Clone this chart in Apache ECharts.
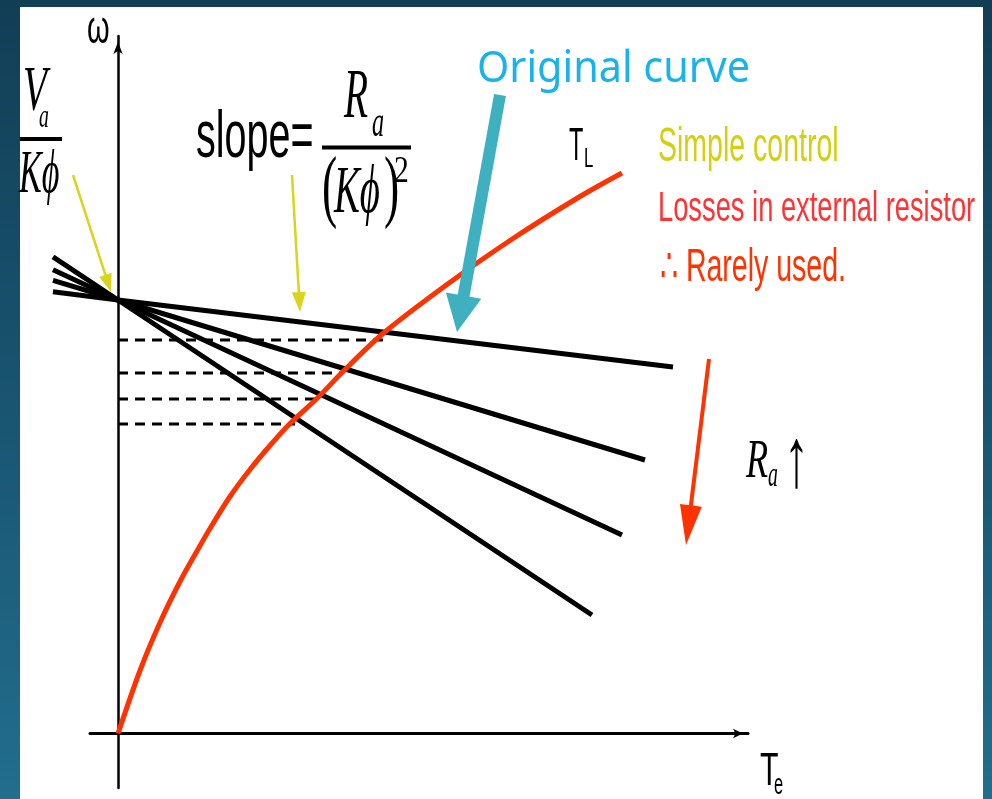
<!DOCTYPE html>
<html>
<head>
<meta charset="utf-8">
<script src="https://cdn.jsdelivr.net/npm/echarts@6/dist/echarts.min.js"></script>
<style>
  html, body { margin: 0; padding: 0; width: 992px; height: 799px; overflow: hidden;
    background: linear-gradient(180deg, #123e55 0%, #195470 50%, #226e8d 100%); }
  #panel { position: absolute; left: 20px; top: 7px; width: 963px; height: 792px; background: #ffffff; }
  #chart { position: absolute; left: 0; top: 0; width: 992px; height: 799px; }
</style>
</head>
<body>
<div id="panel"></div>
<div id="chart"></div>
<script>
// DC motor speed control by armature resistance: ω–T characteristics.
// Units: torque T along x, speed ω along y (arbitrary units).

// Speed lines for increasing armature resistance, [T, ω]: left end, no-load point, right end
const lineR1 = [[-6.5, 44.17], [0, 43.35], [55.5, 36.65]];
const lineR2 = [[-6.5, 45.32], [0, 43.35], [52.7, 27.35]];
const lineR3 = [[-6.5, 46.38], [0, 43.35], [50.4, 19.85]];
const lineR4 = [[-6.5, 47.67], [0, 43.35], [47.4, 11.85]];

// Load torque curve T_L, [T, ω]
const loadCurve = [
  [0, 0], [2.2, 6.3], [4.2, 11.1], [6.2, 15.2], [7.9, 18.25], [9.2, 20.5],
  [11.2, 23.7], [13.2, 26.4], [15.2, 28.8], [17.2, 31.0], [20.0, 33.6],
  [22.5, 36.2], [26.5, 40.0], [32.9, 44.9], [39.5, 49.5], [46.2, 53.7], [50.4, 56.05]
];

// Operating points projected onto the ω axis (dashed)
const opSpeeds = [39.35, 36.05, 33.45, 30.95];
const opTorques = [26.9, 22.5, 20.0, 17.7];

// Annotation arrows, [T tail, ω tail, T tip, ω tip]
const arrowOriginal = [38.2, 63.85, 33.9, 40.15];
const arrowNoLoad   = [-4.5, 55.85, -0.7, 44.15];
const arrowSlope    = [17.4, 55.85, 18.2, 42.15];
const arrowRa       = [59.1, 37.45, 56.8, 18.85];

const arrowStyles = [
  { color: '#3fb0bf', width: 12, headLen: 37, headW: 36 },
  { color: '#d9d41c', width: 2.5, headLen: 18, headW: 13 },
  { color: '#d9d41c', width: 2.5, headLen: 20, headW: 14 },
  { color: '#ff3300', width: 4, headLen: 40, headW: 22 }
];

const chart = echarts.init(document.getElementById('chart'), null, { renderer: 'canvas' });

const SANS = '"Liberation Sans", Arial, sans-serif';
const SERIF = '"Liberation Serif", "Times New Roman", serif';

function label(text, x, y, size, family, color, sx, extra) {
  const font = (extra || '') + ' ' + size + 'px ' + family;
  return {
    type: 'text', x: x, y: y, scaleX: sx, silent: true,
    style: {
      text: text, x: 0, y: 0, font: font, fill: color,
      align: 'left', verticalAlign: 'middle', textAlign: 'left', textVerticalAlign: 'middle'
    }
  };
}
function bar(x1, x2, y) {
  return { type: 'line', silent: true, shape: { x1: x1, y1: y, x2: x2, y2: y },
    style: { stroke: '#000', lineWidth: 4 } };
}

function arrowItem(params, api) {
  const p1 = api.coord([api.value(0), api.value(1)]);
  const p2 = api.coord([api.value(2), api.value(3)]);
  const st = arrowStyles[params.dataIndex];
  const dx = p2[0] - p1[0], dy = p2[1] - p1[1];
  const len = Math.sqrt(dx * dx + dy * dy);
  const ux = dx / len, uy = dy / len, nx = -uy, ny = ux;
  const bx = p2[0] - ux * st.headLen, by = p2[1] - uy * st.headLen;
  return {
    type: 'group',
    children: [
      { type: 'line', shape: { x1: p1[0], y1: p1[1], x2: bx + ux * 2, y2: by + uy * 2 },
        style: { stroke: st.color, lineWidth: st.width } },
      { type: 'polygon',
        shape: { points: [[p2[0], p2[1]],
          [bx + nx * st.headW / 2, by + ny * st.headW / 2],
          [bx - nx * st.headW / 2, by - ny * st.headW / 2]] },
        style: { fill: st.color } }
    ]
  };
}

function speedLine(data) {
  return { type: 'line', xAxisIndex: 0, yAxisIndex: 0, data: data, symbol: 'none',
    silent: true, z: 3, lineStyle: { color: '#000', width: 5 } };
}

const dashedSeries = opSpeeds.map(function (w, i) {
  return { type: 'line', xAxisIndex: 0, yAxisIndex: 0, symbol: 'none', silent: true, z: 2,
    data: [[0, w], [opTorques[i], w]],
    lineStyle: { color: '#000', width: 3, type: [10, 7] } };
});

const option = {
  animation: false,
  backgroundColor: 'transparent',
  grid: [
    { left: 48, right: 244, top: 36, bottom: 11, outerBoundsMode: 'none' },
    { left: 90, right: 244, top: 36, bottom: 11, outerBoundsMode: 'none' }
  ],
  xAxis: [
    { type: 'value', gridIndex: 0, min: -7, max: 63, show: false },
    { type: 'value', gridIndex: 1, min: -2.8, max: 63,
      axisLine: { show: true, onZero: true, symbol: ['none', 'arrow'], symbolSize: [7, 10],
        symbolOffset: [0, -5], lineStyle: { color: '#000', width: 3 } },
      axisTick: { show: false }, axisLabel: { show: false }, splitLine: { show: false } }
  ],
  yAxis: [
    { type: 'value', gridIndex: 0, min: -5.45, max: 69.75, show: false },
    { type: 'value', gridIndex: 1, min: -5.45, max: 69.75,
      axisLine: { show: true, onZero: true, symbol: ['none', 'arrow'], symbolSize: [7, 12],
        symbolOffset: [0, -6], lineStyle: { color: '#000', width: 2.5 } },
      axisTick: { show: false }, axisLabel: { show: false }, splitLine: { show: false } }
  ],
  series: [
    speedLine(lineR1), speedLine(lineR2), speedLine(lineR3), speedLine(lineR4)
  ].concat(dashedSeries).concat([
    { type: 'line', name: 'T_L', xAxisIndex: 0, yAxisIndex: 0, data: loadCurve,
      smooth: 0.3,
      symbol: 'none', silent: true, z: 4, lineStyle: { color: '#ff3300', width: 5 } },
    { type: 'custom', xAxisIndex: 0, yAxisIndex: 0, silent: true, z: 5,
      renderItem: arrowItem,
      encode: { x: [0, 2], y: [1, 3] },
      data: [arrowOriginal, arrowNoLoad, arrowSlope, arrowRa] }
  ]),
  graphic: [
    // axis titles
    label('ω', 87, 30, 46, SANS, '#000', 0.63),
    label('T', 760, 772, 46, SANS, '#000', 0.66),
    label('e', 774, 786, 30, SANS, '#000', 0.55),
    // V_a / Kφ
    label('V', 23, 93, 63, SERIF, '#000', 0.62, 'italic'),
    label('a', 39, 118, 33, SERIF, '#000', 0.6, 'italic'),
    bar(20, 62, 139),
    label('Kϕ', 19, 176, 62, SERIF, '#000', 0.55, 'italic'),
    // slope = R_a / (Kφ)^2
    label('slope=', 196, 139, 67, SANS, '#000', 0.59),
    label('R', 344, 99, 69, SERIF, '#000', 0.57, 'italic'),
    label('a', 372, 124, 44, SERIF, '#000', 0.55, 'italic'),
    bar(322, 411, 147.5),
    label('(', 322, 191, 80, SERIF, '#000', 0.57),
    label('Kϕ', 334, 194, 68, SERIF, '#000', 0.57, 'italic'),
    label(')', 384, 191, 80, SERIF, '#000', 0.57),
    label('2', 394, 172, 37, SERIF, '#000', 0.8),
    // curve labels
    label('Original curve', 477, 69.5, 44, '"Noto Sans", sans-serif', '#19b3ec', 0.94),
    label('T', 569, 147.5, 47, SANS, '#000', 0.5),
    label('L', 584, 159, 28, SANS, '#000', 0.6),
    // remarks
    label('Simple control', 658, 147.5, 47.5, SANS, '#d4cf10', 0.6),
    label('Losses in external resistor', 658, 209.5, 43, SANS, '#ff3333', 0.635),
    label('∴ Rarely used.', 660, 268.5, 46, SANS, '#ff3300', 0.62),
    // R_a ↑
    label('R', 746, 462.5, 54, SERIF, '#000', 0.67, 'italic'),
    label('a', 768, 477, 36, SERIF, '#000', 0.55, 'italic'),
    label('↑', 784, 464, 84, SERIF, '#000', 0.6)
  ]
};

chart.setOption(option);
</script>
</body>
</html>
